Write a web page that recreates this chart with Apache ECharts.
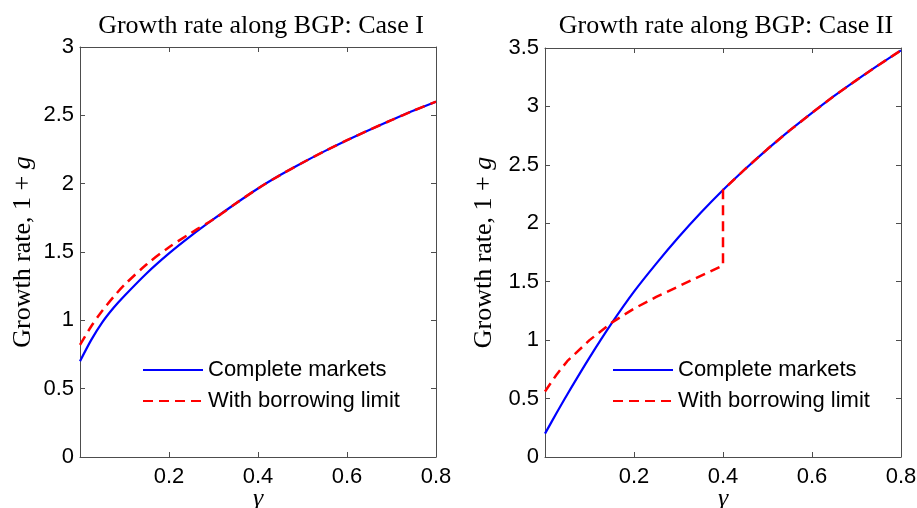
<!DOCTYPE html>
<html>
<head>
<meta charset="utf-8">
<script src="https://cdn.jsdelivr.net/npm/echarts@6/dist/echarts.min.js"></script>
<style>
  html, body { margin: 0; padding: 0; background: #fff; }
  #main { width: 917px; height: 508px; }
</style>
</head>
<body>
<div id="main"></div>
<script>
// gamma grid for the curves
var gammaCM1 = [0, 0.025, 0.05, 0.075, 0.1, 0.15, 0.2, 0.25, 0.3, 0.35, 0.4, 0.45, 0.5, 0.55, 0.6, 0.65, 0.7, 0.75, 0.8];
var cm1      = [0.70, 0.855, 0.985, 1.09, 1.18, 1.345, 1.49, 1.62, 1.74, 1.855, 1.965, 2.063, 2.153, 2.238, 2.318, 2.393, 2.465, 2.535, 2.60];
var gammaBL1 = [0, 0.025, 0.05, 0.075, 0.1, 0.15, 0.2, 0.25, 0.3, 0.35, 0.4, 0.45, 0.5, 0.55, 0.6, 0.65, 0.7, 0.75, 0.8];
var bl1      = [0.82, 0.955, 1.07, 1.17, 1.26, 1.41, 1.535, 1.64, 1.74, 1.855, 1.965, 2.063, 2.153, 2.238, 2.318, 2.393, 2.465, 2.535, 2.60];

var gammaCM2 = [0, 0.025, 0.05, 0.1, 0.15, 0.2, 0.25, 0.3, 0.35, 0.4, 0.45, 0.5, 0.55, 0.6, 0.65, 0.7, 0.75, 0.8];
var cm2      = [0.20, 0.37, 0.535, 0.85, 1.145, 1.415, 1.655, 1.88, 2.09, 2.285, 2.465, 2.635, 2.795, 2.945, 3.09, 3.225, 3.355, 3.48];
var gammaBL2 = [0, 0.025, 0.05, 0.1, 0.15, 0.2, 0.25, 0.3, 0.35, 0.4, 0.4, 0.45, 0.5, 0.55, 0.6, 0.65, 0.7, 0.75, 0.8];
var bl2      = [0.56, 0.70, 0.82, 1.00, 1.15, 1.27, 1.37, 1.46, 1.55, 1.64, 2.285, 2.465, 2.635, 2.795, 2.945, 3.09, 3.225, 3.355, 3.48];

var titles = ['Growth rate along BGP: Case I', 'Growth rate along BGP: Case II'];
var legendNames = ['Complete markets', 'With borrowing limit'];

function pairs(xs, ys) {
    return xs.map(function (x, i) { return [x, ys[i]]; });
}

var myChart = echarts.init(document.getElementById('main'));

var axisColor = '#4d4d4d';
var serif = 'Liberation Serif';
var sans = 'Liberation Sans';

function xAxes(gi) {
    return [
        {
            type: 'value', gridIndex: gi, min: 0, max: 0.8, interval: 0.2,
            name: 'γ', nameLocation: 'middle', nameGap: 29, nameMoveOverlap: false,
            nameTextStyle: {fontFamily: serif, fontStyle: 'italic', fontSize: 26, color: '#000'},
            axisLine: {onZero: false, lineStyle: {color: axisColor, width: 1}},
            axisTick: {inside: true, length: 5, lineStyle: {color: axisColor}},
            axisLabel: {
                margin: 9, fontFamily: sans, fontSize: 22, color: '#000',
                formatter: function (v) { return v === 0 ? '' : String(v); }
            },
            splitLine: {show: false}
        },
        {
            type: 'value', gridIndex: gi, position: 'top', min: 0, max: 0.8, interval: 0.2,
            axisLine: {onZero: false, lineStyle: {color: axisColor, width: 1}},
            axisTick: {inside: true, length: 5, lineStyle: {color: axisColor}},
            axisLabel: {show: false},
            splitLine: {show: false}
        }
    ];
}

function yAxes(gi, max, gap) {
    return [
        {
            type: 'value', gridIndex: gi, min: 0, max: max, interval: 0.5,
            name: '{n|Growth rate, 1 + }{g|g}', nameLocation: 'middle', nameGap: gap, nameRotate: 90,
            nameTextStyle: {
                rich: {
                    n: {fontFamily: serif, fontSize: 26, color: '#000'},
                    g: {fontFamily: serif, fontStyle: 'italic', fontSize: 26, color: '#000'}
                }
            },
            axisLine: {onZero: false, lineStyle: {color: axisColor, width: 1}},
            axisTick: {inside: true, length: 5, lineStyle: {color: axisColor}},
            axisLabel: {margin: 6, fontFamily: sans, fontSize: 22, color: '#000'},
            splitLine: {show: false}
        },
        {
            type: 'value', gridIndex: gi, position: 'right', min: 0, max: max, interval: 0.5,
            axisLine: {onZero: false, lineStyle: {color: axisColor, width: 1}},
            axisTick: {inside: true, length: 5, lineStyle: {color: axisColor}},
            axisLabel: {show: false},
            splitLine: {show: false}
        }
    ];
}

function lineSeries(name, idx, data, dashed, smooth) {
    return {
        name: name, type: 'line', xAxisIndex: idx, yAxisIndex: idx,
        data: data, symbol: 'none', smooth: smooth, animation: false,
        z: dashed ? 3 : 2,
        lineStyle: dashed
            ? {color: '#ff0000', width: 2.5, type: [10, 6]}
            : {color: '#0000ff', width: 2.2},
        itemStyle: {color: dashed ? '#ff0000' : '#0000ff'}
    };
}

var legendBase = {
    orient: 'vertical', top: 353,
    itemWidth: 60, itemHeight: 14, itemGap: 7,
    itemStyle: {opacity: 0},
    textStyle: {fontFamily: sans, fontSize: 22, color: '#000', lineHeight: 24},
    selectedMode: false
};

var option = {
    backgroundColor: '#fff',
    animation: false,
    title: [
        {text: titles[0], left: 256, top: 8, textAlign: 'center',
         textStyle: {fontFamily: serif, fontSize: 26, fontWeight: 'normal', color: '#000'}},
        {text: titles[1], left: 721, top: 8, textAlign: 'center',
         textStyle: {fontFamily: serif, fontSize: 26, fontWeight: 'normal', color: '#000'}}
    ],
    grid: [
        {left: 80, top: 47, width: 356, height: 410, outerBoundsMode: 'none', containLabel: false},
        {left: 545, top: 48, width: 356, height: 409, outerBoundsMode: 'none', containLabel: false}
    ],
    legend: [
        Object.assign({}, legendBase, {data: legendNames, left: 137}),
        Object.assign({}, legendBase, {
            data: [legendNames[0] + ' ', legendNames[1] + ' '], left: 607,
            formatter: function (n) { return n.trim(); }
        })
    ],
    xAxis: xAxes(0).concat(xAxes(1)),
    yAxis: yAxes(0, 3, 44).concat(yAxes(1, 3.5, 48)),
    series: [
        lineSeries(legendNames[0], 0, pairs(gammaCM1, cm1), false, 0.3),
        lineSeries(legendNames[1], 0, pairs(gammaBL1, bl1), true, 0.3),
        lineSeries(legendNames[0] + ' ', 2, pairs(gammaCM2, cm2), false, 0.3),
        lineSeries(legendNames[1] + ' ', 2, pairs(gammaBL2, bl2), true, false)
    ]
};
myChart.setOption(option);
</script>
</body>
</html>
